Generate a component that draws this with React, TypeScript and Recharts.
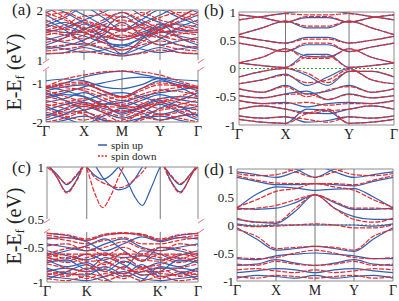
import React from "react";
import { LineChart, Line, XAxis, YAxis, ReferenceLine } from "recharts";

const BLUE = "#2f5fb3";
const RED = "#e8282c";
const FRAME = "#8a8a8a";
const FONT = "Liberation Serif";

// ---- panel (a): Γ X M Y Γ, broken axis ----
const kA = [0, 0.5, 1, 1.5, 2, 2.5, 3, 3.5, 4];
const ticksA = [0, 1, 2, 3, 4];
const labelsA = ["Γ", "X", "M", "Y", "Γ"];

const upA_hi = [
  [1.12, 1.15, 1.25, 1.15, 1.08, 1.15, 1.25, 1.15, 1.12],
  [1.3, 1.45, 1.72, 1.45, 1.12, 1.4, 1.72, 1.45, 1.3],
  [1.55, 1.65, 1.8, 1.95, 2.1, 1.9, 1.75, 1.6, 1.55],
  [1.45, 1.35, 1.3, 1.5, 1.75, 1.5, 1.3, 1.38, 1.45],
  [1.7, 1.85, 2.05, 1.85, 1.6, 1.8, 2.0, 1.85, 1.7],
  [1.9, 1.7, 1.55, 1.4, 1.25, 1.45, 1.6, 1.75, 1.9],
  [2.1, 1.95, 1.75, 1.6, 1.45, 1.55, 1.68, 1.85, 2.05],
  [1.22, 1.28, 1.4, 1.6, 1.88, 1.65, 1.45, 1.3, 1.22],
  [1.6, 1.55, 1.48, 1.35, 1.3, 1.42, 1.55, 1.58, 1.6],
  [1.8, 1.6, 1.35, 1.22, 1.12, 1.25, 1.42, 1.65, 1.8],
  [1.4, 1.5, 1.62, 1.75, 1.95, 1.75, 1.58, 1.48, 1.4],
  [1.95, 2.05, 1.9, 1.7, 1.58, 1.72, 1.9, 2.05, 1.95],
  [1.28, 1.22, 1.15, 1.2, 1.3, 1.22, 1.15, 1.22, 1.28],
  [1.65, 1.75, 1.62, 1.48, 1.4, 1.5, 1.65, 1.72, 1.65],
];
const dnA_hi = [
  [1.13, 1.14, 1.18, 1.12, 1.1, 1.13, 1.2, 1.15, 1.13],
  [1.55, 1.5, 1.42, 1.55, 1.7, 1.55, 1.45, 1.52, 1.55],
  [1.6, 1.7, 1.88, 1.9, 1.85, 1.95, 1.8, 1.7, 1.6],
  [1.35, 1.45, 1.6, 1.8, 1.95, 1.8, 1.62, 1.45, 1.35],
  [1.58, 1.62, 1.75, 1.62, 1.45, 1.6, 1.72, 1.62, 1.58],
  [1.95, 1.8, 1.65, 1.52, 1.4, 1.52, 1.62, 1.78, 1.95],
  [1.25, 1.3, 1.33, 1.25, 1.2, 1.3, 1.38, 1.3, 1.25],
  [1.75, 1.9, 2.1, 1.95, 1.75, 1.88, 2.05, 1.9, 1.75],
  [1.5, 1.55, 1.55, 1.7, 1.8, 1.7, 1.58, 1.55, 1.5],
  [2.05, 1.85, 1.58, 1.35, 1.2, 1.35, 1.6, 1.85, 2.05],
  [1.42, 1.38, 1.5, 1.62, 1.6, 1.65, 1.5, 1.4, 1.42],
  [1.88, 1.95, 1.8, 1.68, 1.62, 1.7, 1.85, 1.95, 1.88],
  [1.18, 1.22, 1.28, 1.38, 1.5, 1.4, 1.3, 1.22, 1.18],
  [1.7, 1.62, 1.55, 1.45, 1.58, 1.48, 1.55, 1.62, 1.7],
];
const upA_lo = [
  [-1.15, -1.0, -0.85, -0.75, -0.7, -0.78, -0.88, -1.0, -1.15],
  [-1.2, -1.1, -1.05, -1.2, -1.35, -1.15, -0.95, -1.05, -1.2],
  [-1.35, -1.25, -1.1, -1.0, -0.9, -0.85, -0.9, -1.1, -1.35],
  [-1.5, -1.4, -1.25, -1.45, -1.6, -1.45, -1.3, -1.42, -1.5],
  [-1.7, -1.55, -1.45, -1.3, -1.25, -1.35, -1.5, -1.6, -1.7],
  [-1.8, -1.9, -2.05, -1.85, -1.65, -1.75, -1.95, -1.85, -1.8],
  [-1.6, -1.75, -1.7, -1.55, -1.45, -1.6, -1.8, -1.7, -1.6],
  [-1.95, -1.8, -1.6, -1.75, -1.9, -1.75, -1.55, -1.75, -1.95],
  [-1.25, -1.45, -1.7, -1.95, -2.1, -1.9, -1.65, -1.45, -1.25],
  [-1.4, -1.3, -1.35, -1.55, -1.8, -1.6, -1.4, -1.35, -1.4],
  [-0.95, -0.9, -0.95, -1.1, -1.15, -1.05, -0.88, -0.92, -0.95],
  [-1.85, -1.65, -1.5, -1.65, -1.75, -1.62, -1.45, -1.6, -1.85],
  [-1.1, -1.2, -1.35, -1.55, -1.5, -1.35, -1.25, -1.18, -1.1],
  [-2.05, -1.95, -1.85, -1.95, -2.0, -1.9, -1.85, -1.95, -2.05],
];
const dnA_lo = [
  [-1.1, -0.9, -0.8, -0.72, -0.7, -0.72, -0.8, -0.95, -1.1],
  [-1.12, -1.0, -0.98, -1.2, -1.36, -1.15, -1.0, -1.05, -1.12],
  [-1.15, -1.05, -1.02, -1.22, -1.38, -1.2, -1.05, -1.08, -1.15],
  [-1.3, -1.2, -1.15, -1.3, -1.45, -1.3, -1.18, -1.22, -1.3],
  [-1.45, -1.55, -1.6, -1.45, -1.35, -1.5, -1.65, -1.55, -1.45],
  [-1.6, -1.5, -1.4, -1.6, -1.75, -1.55, -1.4, -1.5, -1.6],
  [-1.75, -1.85, -1.95, -1.8, -1.7, -1.85, -1.95, -1.85, -1.75],
  [-1.9, -1.7, -1.55, -1.7, -1.85, -1.65, -1.5, -1.7, -1.9],
  [-1.2, -1.35, -1.5, -1.75, -2.0, -1.75, -1.5, -1.35, -1.2],
  [-1.55, -1.65, -1.8, -2.0, -1.95, -1.8, -1.7, -1.62, -1.55],
  [-1.08, -1.12, -1.2, -1.38, -1.55, -1.4, -1.2, -1.12, -1.08],
  [-1.35, -1.45, -1.55, -1.6, -1.62, -1.6, -1.5, -1.42, -1.35],
  [-1.65, -1.8, -1.7, -1.55, -1.58, -1.7, -1.82, -1.75, -1.65],
  [-2.0, -1.9, -1.75, -1.9, -2.05, -1.95, -1.8, -1.9, -2.0],
];

// ---- panel (b): Γ X Y Γ ----
const kB = [0, 1.5, 3, 4.37, 5.73, 7.1, 8.55, 10];
const ticksB = [0, 3, 7.1, 10];
const labelsB = ["Γ", "X", "Y", "Γ"];

const upB = [
  [0.95, 0.9, 0.82, 0.9, 0.9, 0.82, 0.9, 0.95],
  [0.86, 0.92, 0.98, 1.02, 1.02, 0.98, 0.92, 0.86],
  [0.6, 0.72, 0.84, 0.72, 0.72, 0.84, 0.72, 0.6],
  [0.57, 0.5, 0.45, 0.55, 0.55, 0.45, 0.5, 0.57],
  [0.45, 0.38, 0.3, 0.42, 0.42, 0.3, 0.38, 0.45],
  [0.1, 0.2, 0.35, 0.22, 0.2, 0.35, 0.2, 0.1],
  [0.1, 0.05, 0.02, 0.25, 0.25, 0.02, 0.05, 0.1],
  [-0.15, -0.05, 0.0, -0.12, -0.3, -0.05, -0.05, -0.15],
  [-0.27, -0.2, -0.1, -0.3, -0.15, 0.0, -0.2, -0.27],
  [-0.36, -0.42, -0.3, -0.45, -0.4, -0.3, -0.42, -0.36],
  [-0.48, -0.52, -0.45, -0.4, -0.55, -0.45, -0.52, -0.48],
  [-0.57, -0.62, -0.6, -0.68, -0.62, -0.6, -0.62, -0.57],
  [-0.72, -0.66, -0.72, -0.78, -0.8, -0.72, -0.66, -0.72],
  [-0.84, -0.88, -0.85, -0.95, -0.92, -0.85, -0.88, -0.84],
  [-0.9, -0.95, -0.97, -0.72, -0.75, -0.97, -0.95, -0.9],
];
const dnB = [
  [0.95, 0.9, 0.82, 0.92, 0.92, 0.82, 0.9, 0.95],
  [0.86, 0.92, 0.97, 0.95, 0.95, 0.97, 0.92, 0.86],
  [0.6, 0.72, 0.84, 0.75, 0.75, 0.84, 0.72, 0.6],
  [0.57, 0.5, 0.45, 0.52, 0.52, 0.45, 0.5, 0.57],
  [0.45, 0.38, 0.3, 0.45, 0.45, 0.3, 0.38, 0.45],
  [0.1, 0.2, 0.35, 0.18, 0.18, 0.35, 0.2, 0.1],
  [0.1, 0.05, 0.02, 0.2, 0.22, 0.02, 0.05, 0.1],
  [-0.15, -0.05, 0.0, -0.08, -0.25, -0.05, -0.05, -0.15],
  [-0.27, -0.2, -0.12, -0.25, -0.2, -0.02, -0.2, -0.27],
  [-0.36, -0.42, -0.32, -0.5, -0.38, -0.32, -0.42, -0.36],
  [-0.48, -0.52, -0.46, -0.45, -0.55, -0.46, -0.52, -0.48],
  [-0.57, -0.62, -0.62, -0.6, -0.65, -0.62, -0.62, -0.57],
  [-0.72, -0.66, -0.72, -0.8, -0.75, -0.72, -0.66, -0.72],
  [-0.84, -0.88, -0.86, -0.9, -0.95, -0.86, -0.88, -0.84],
  [-0.9, -0.95, -0.97, -0.8, -0.72, -0.97, -0.95, -0.9],
];

// ---- panel (c): Γ K K' Γ, broken axis ----
const kC_hi = [0, 0.25, 0.5, 0.75, 1, 1.2, 1.4, 1.6, 1.8, 2.0, 2.2, 2.4, 2.6, 2.85, 3.1, 3.35, 3.6, 3.8];
const kC_lo = [0, 0.5, 1, 1.46, 1.93, 2.39, 2.85, 3.32, 3.8];
const ticksC = [0, 1, 2.85, 3.8];
const labelsC = ["Γ", "K", "K’", "Γ"];

const upC_hi = [
  [1.02, 0.93, 0.83, 0.92, 1.05, 1.1, 1.1, 1.1, 1.1, 1.1, 1.1, 1.1, 1.1, 1.05, 0.92, 0.83, 0.93, 1.02],
  [1.05, 0.9, 0.76, 0.88, 1.08, 1.1, 1.1, 1.1, 1.1, 1.1, 1.1, 1.1, 1.1, 1.08, 0.88, 0.76, 0.9, 1.05],
  [1.1, 1.1, 1.1, 1.1, 1.1, 1.1, 1.1, 1.08, 1.0, 0.88, 0.72, 0.63, 0.78, 1.0, 1.1, 1.1, 1.1, 1.1],
  [1.1, 1.1, 1.1, 1.1, 1.1, 1.02, 0.9, 0.82, 0.78, 0.8, 0.88, 1.0, 1.1, 1.1, 1.1, 1.1, 1.1, 1.1],
  [1.1, 1.1, 1.1, 1.1, 1.0, 0.92, 0.88, 0.92, 1.0, 1.05, 1.1, 1.1, 1.1, 1.1, 1.1, 1.1, 1.1, 1.1],
];
const dnC_hi = [
  [1.0, 0.92, 0.84, 0.93, 1.05, 1.1, 1.1, 1.1, 1.1, 1.1, 1.1, 1.1, 1.1, 1.05, 0.93, 0.84, 0.92, 1.0],
  [1.04, 0.9, 0.75, 0.87, 1.06, 1.1, 1.1, 1.1, 1.1, 1.1, 1.1, 1.1, 1.1, 1.06, 0.87, 0.75, 0.9, 1.04],
  [1.1, 1.1, 1.1, 1.1, 0.98, 0.75, 0.61, 0.72, 0.9, 1.05, 1.1, 1.1, 1.1, 1.1, 1.1, 1.1, 1.1, 1.1],
  [1.1, 1.1, 1.1, 1.1, 1.0, 0.9, 0.85, 0.82, 0.8, 0.82, 0.88, 0.95, 1.05, 1.1, 1.1, 1.1, 1.1, 1.1],
];
const upC_lo = [
  [-0.3, -0.33, -0.4, -0.32, -0.3, -0.32, -0.4, -0.33, -0.3],
  [-0.38, -0.36, -0.42, -0.55, -0.45, -0.35, -0.42, -0.36, -0.38],
  [-0.62, -0.55, -0.48, -0.38, -0.55, -0.7, -0.5, -0.55, -0.62],
  [-0.65, -0.7, -0.6, -0.7, -0.8, -0.55, -0.6, -0.7, -0.65],
  [-0.68, -0.78, -0.72, -0.85, -0.7, -0.8, -0.72, -0.78, -0.68],
  [-0.72, -0.68, -0.82, -0.65, -0.75, -0.9, -0.85, -0.68, -0.72],
  [-0.8, -0.88, -0.9, -0.78, -0.88, -0.75, -0.92, -0.88, -0.8],
  [-0.92, -0.95, -0.98, -0.92, -0.85, -0.95, -0.98, -0.95, -0.92],
  [-0.96, -0.85, -0.75, -0.95, -1.05, -0.98, -0.78, -0.85, -0.96],
  [-0.45, -0.5, -0.55, -0.45, -0.38, -0.5, -0.55, -0.5, -0.45],
  [-0.55, -0.62, -0.68, -0.6, -0.65, -0.62, -0.68, -0.62, -0.55],
  [-0.85, -0.8, -0.85, -0.82, -0.92, -0.85, -0.8, -0.8, -0.85],
];
const dnC_lo = [
  [-0.3, -0.32, -0.38, -0.31, -0.29, -0.31, -0.38, -0.32, -0.3],
  [-0.36, -0.4, -0.45, -0.4, -0.36, -0.45, -0.45, -0.4, -0.36],
  [-0.6, -0.52, -0.5, -0.62, -0.5, -0.6, -0.5, -0.52, -0.6],
  [-0.64, -0.72, -0.65, -0.58, -0.72, -0.62, -0.65, -0.72, -0.64],
  [-0.7, -0.65, -0.75, -0.8, -0.65, -0.78, -0.75, -0.65, -0.7],
  [-0.74, -0.8, -0.85, -0.72, -0.82, -0.85, -0.85, -0.8, -0.74],
  [-0.82, -0.9, -0.88, -0.92, -0.78, -0.9, -0.88, -0.9, -0.82],
  [-0.9, -0.85, -0.95, -0.88, -0.95, -0.82, -0.95, -0.85, -0.9],
  [-0.95, -0.98, -0.92, -0.98, -0.9, -0.98, -0.92, -0.98, -0.95],
  [-0.65, -0.6, -0.7, -0.68, -0.6, -0.68, -0.7, -0.6, -0.65],
  [-0.48, -0.45, -0.55, -0.5, -0.42, -0.52, -0.55, -0.45, -0.48],
  [-0.58, -0.66, -0.6, -0.75, -0.58, -0.7, -0.6, -0.66, -0.58],
  [-0.87, -0.92, -0.8, -0.85, -0.88, -0.8, -0.8, -0.92, -0.87],
  [-0.6, -0.6, -0.6, -0.6, -0.6, -0.6, -0.6, -0.6, -0.6],
  [-0.33, -0.36, -0.4, -0.33, -0.3, -0.33, -0.4, -0.36, -0.33],
];

// ---- panel (d): Γ X M Y Γ ----
const kD = [0, 0.5, 1, 1.5, 2, 2.5, 3, 3.5, 4];
const upD = [
  [0.95, 0.9, 0.85, 0.95, 1.05, 0.95, 0.85, 0.9, 0.95],
  [0.3, 0.55, 0.68, 0.66, 0.62, 0.64, 0.65, 0.5, 0.3],
  [0.3, 0.28, 0.3, 0.4, 0.54, 0.4, 0.28, 0.28, 0.3],
  [0.1, 0.05, 0.03, 0.25, 0.54, 0.3, 0.15, 0.1, 0.1],
  [0.02, -0.02, 0.0, 0.0, 0.0, 0.0, 0.0, -0.02, 0.02],
  [-0.05, -0.25, -0.45, -0.42, -0.38, -0.42, -0.47, -0.25, -0.05],
  [-0.6, -0.62, -0.55, -0.52, -0.5, -0.52, -0.55, -0.6, -0.6],
  [-0.72, -0.7, -0.62, -0.68, -0.72, -0.68, -0.62, -0.7, -0.72],
  [-0.85, -0.82, -0.78, -0.8, -0.85, -0.8, -0.78, -0.82, -0.85],
  [-0.95, -0.9, -0.92, -0.95, -0.9, -0.95, -0.92, -0.9, -0.95],
  [0.85, 0.78, 0.72, 0.72, 0.74, 0.72, 0.7, 0.78, 0.85],
  [1.1, 1.05, 1.08, 1.0, 0.85, 1.0, 1.08, 1.05, 1.1],
];
const dnD = [
  [0.92, 0.88, 0.9, 1.0, 1.1, 1.0, 0.9, 0.88, 0.92],
  [0.32, 0.45, 0.6, 0.65, 0.74, 0.68, 0.62, 0.45, 0.32],
  [0.28, 0.3, 0.35, 0.45, 0.54, 0.42, 0.3, 0.3, 0.28],
  [0.12, 0.05, 0.05, 0.3, 0.54, 0.3, 0.1, 0.05, 0.12],
  [0.0, -0.03, -0.02, 0.0, 0.02, 0.0, -0.05, -0.05, 0.0],
  [-0.08, -0.2, -0.42, -0.4, -0.38, -0.4, -0.45, -0.2, -0.08],
  [-0.58, -0.6, -0.58, -0.5, -0.45, -0.5, -0.58, -0.6, -0.58],
  [-0.7, -0.72, -0.65, -0.7, -0.72, -0.7, -0.65, -0.72, -0.7],
  [-0.8, -0.78, -0.82, -0.85, -0.8, -0.85, -0.82, -0.78, -0.8],
  [-0.92, -0.95, -0.9, -0.92, -0.95, -0.92, -0.9, -0.95, -0.92],
  [0.88, 0.8, 0.75, 0.74, 0.74, 0.74, 0.72, 0.8, 0.88],
  [1.05, 1.1, 1.05, 0.95, 0.85, 0.95, 1.05, 1.1, 1.05],
];

const buildRows = (k: number[], up: number[][], dn: number[][]) =>
  k.map((kv, i) => {
    const r: Record<string, number> = { k: kv };
    up.forEach((b, j) => (r["u" + j] = b[i]));
    dn.forEach((b, j) => (r["d" + j] = b[i]));
    return r;
  });

interface SegProps {
  x0: number;
  y0: number;
  x1: number;
  y1: number;
  k: number[];
  up: number[][];
  dn: number[][];
  domain: [number, number];
  yTicks: number[];
  xTicks: number[];
  xLabels?: string[];
  topEdge?: boolean;
  zero?: boolean;
}

const Segment: React.FC<SegProps> = ({
  x0, y0, x1, y1, k, up, dn, domain, yTicks, xTicks, xLabels, topEdge, zero,
}) => {
  const showX = !!xLabels;
  const mt = 8;
  const mb = showX ? 0 : 9;
  const yw = 40;
  const xh = 24;
  const width = x1 - x0 + yw + 6;
  const height = y1 - y0 + mt + mb + (showX ? xh : 0);
  const kMax = k[k.length - 1];
  const data = buildRows(k, up, dn);
  return (
    <div style={{ position: "absolute", left: x0 - yw, top: y0 - mt }}>
      <LineChart
        width={width}
        height={height}
        data={data}
        margin={{ top: mt, right: 6, bottom: mb, left: 0 }}
      >
        <XAxis
          dataKey="k"
          type="number"
          domain={[0, kMax]}
          ticks={xTicks}
          hide={!showX}
          height={xh}
          axisLine={false}
          tickLine={false}
          tickSize={3}
          tickMargin={1}
          interval={0}
          tickFormatter={(v: number) => (xLabels ? xLabels[xTicks.indexOf(v)] ?? "" : "")}
          tick={{ fontFamily: FONT, fontSize: 14, fill: "#222" }}
        />
        <YAxis
          type="number"
          domain={domain}
          ticks={yTicks}
          allowDataOverflow
          width={yw}
          axisLine={false}
          tickLine={false}
          tickSize={2}
          tickMargin={1}
          interval={0}
          tickFormatter={(v: number) => String(v)}
          tick={{ fontFamily: FONT, fontSize: 13, fill: "#222" }}
        />
        {zero && <ReferenceLine y={0} stroke="#3a9a3a" strokeDasharray="2 2" strokeWidth={1} />}
        {xTicks.map((t) => (
          <ReferenceLine key={"v" + t} x={t} stroke={t === 0 || t === kMax ? FRAME : "#777"} strokeWidth={1} />
        ))}
        {up.map((_, j) => (
          <Line
            key={"u" + j}
            dataKey={"u" + j}
            type="monotone"
            stroke={BLUE}
            strokeWidth={1.2}
            dot={false}
            activeDot={false}
            isAnimationActive={false}
          />
        ))}
        {dn.map((_, j) => (
          <Line
            key={"d" + j}
            dataKey={"d" + j}
            type="monotone"
            stroke={RED}
            strokeWidth={1.2}
            strokeDasharray="5 1.5"
            dot={false}
            activeDot={false}
            isAnimationActive={false}
          />
        ))}
        {topEdge && <ReferenceLine y={domain[1]} stroke={FRAME} strokeWidth={1} />}
        {showX && <ReferenceLine y={domain[0]} stroke={FRAME} strokeWidth={1} />}
      </LineChart>
    </div>
  );
};

const BreakMarks: React.FC<{ xs: number[]; ys: number[] }> = ({ xs, ys }) => (
  <>
    {xs.map((x) =>
      ys.map((y) => (
        <line key={x + "-" + y} x1={x - 3} y1={y + 2} x2={x + 3} y2={y - 2} stroke="#f07080" strokeWidth={1} />
      ))
    )}
  </>
);

const AxisTitle: React.FC<{ cx: number; cy: number }> = ({ cx, cy }) => (
  <text
    x={cx}
    y={cy}
    transform={`rotate(-90 ${cx} ${cy})`}
    textAnchor="middle"
    fontFamily={FONT}
    fontSize={20}
    fill="#222"
    dominantBaseline="central"
  >
    E-E
    <tspan fontSize={13} dy={5}>f</tspan>
    <tspan dy={-5}> (eV)</tspan>
  </text>
);

export default function App() {
  return (
    <div style={{ position: "absolute", left: 0, top: 0, width: 399, height: 301, background: "#fff", overflow: "hidden", fontFamily: FONT }}>
      {/* (a) */}
      <Segment x0={46} y0={10} x1={198} y1={60} k={kA} up={upA_hi} dn={dnA_hi} domain={[1, 2]} yTicks={[1, 2]} xTicks={ticksA} topEdge />
      <Segment x0={46} y0={70} x1={198} y1={122} k={kA} up={upA_lo} dn={dnA_lo} domain={[-2, -0.67]} yTicks={[-2, -1]} xTicks={ticksA} xLabels={labelsA} />
      {/* (b) */}
      <Segment x0={239} y0={12} x1={394} y1={125} k={kB} up={upB} dn={dnB} domain={[-1, 1]} yTicks={[-1, -0.5, 0, 0.5, 1]} xTicks={ticksB} xLabels={labelsB} topEdge zero />
      {/* (c) */}
      <Segment x0={47} y0={167} x1={198} y1={219} k={kC_hi} up={upC_hi} dn={dnC_hi} domain={[0.5, 1]} yTicks={[0.5, 1]} xTicks={ticksC} topEdge />
      <Segment x0={47} y0={232} x1={198} y1={282} k={kC_lo} up={upC_lo} dn={dnC_lo} domain={[-1, -0.28]} yTicks={[-1, -0.5]} xTicks={ticksC} xLabels={labelsC} />
      {/* (d) */}
      <Segment x0={237} y0={169} x1={393} y1={281} k={kD} up={upD} dn={dnD} domain={[-1, 1]} yTicks={[-1, -0.5, 0, 0.5, 1]} xTicks={ticksA} xLabels={labelsA} topEdge zero />

      <svg width={399} height={301} style={{ position: "absolute", left: 0, top: 0, pointerEvents: "none" }}>
        <text x={12} y={15} fontFamily={FONT} fontSize={17} fill="#222">(a)</text>
        <text x={204} y={16} fontFamily={FONT} fontSize={17} fill="#222">(b)</text>
        <text x={12} y={173} fontFamily={FONT} fontSize={17} fill="#222">(c)</text>
        <text x={204} y={175} fontFamily={FONT} fontSize={17} fill="#222">(d)</text>
        <AxisTitle cx={14} cy={72} />
        <AxisTitle cx={14} cy={226} />
        <BreakMarks xs={[46, 201]} ys={[61, 69]} />
        <BreakMarks xs={[47, 201]} ys={[221, 231]} />
        <line x1={98} y1={145} x2={107} y2={145} stroke={BLUE} strokeWidth={1.5} />
        <text x={111} y={148.5} fontFamily={FONT} fontSize={11} fill="#222">spin up</text>
        <line x1={98} y1={156} x2={107} y2={156} stroke={RED} strokeWidth={1.5} strokeDasharray="2 1.5" />
        <text x={111} y={159.5} fontFamily={FONT} fontSize={11} fill="#222">spin down</text>
      </svg>
    </div>
  );
}
